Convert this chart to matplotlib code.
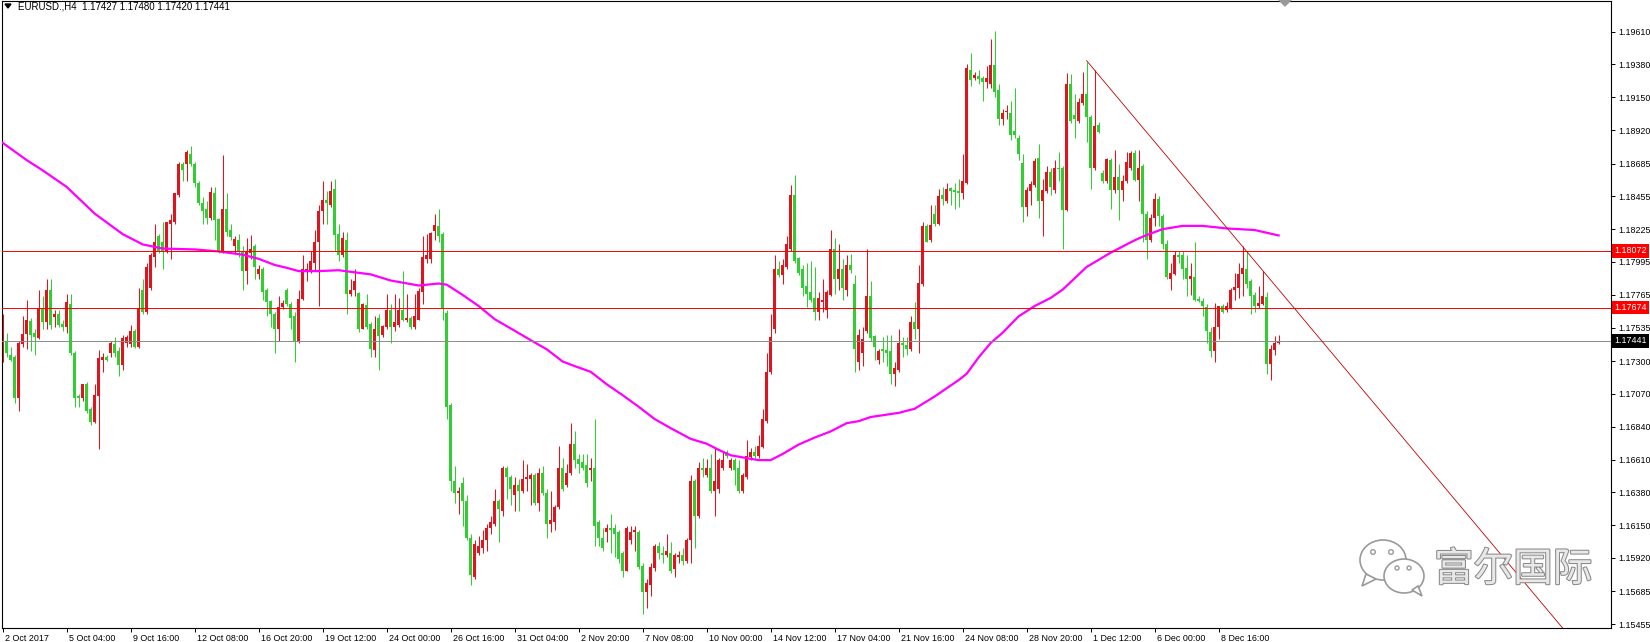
import numpy as np
import matplotlib
matplotlib.use("Agg")
import matplotlib.pyplot as plt
import matplotlib.transforms as mtransforms
import matplotlib.patheffects as pe
from matplotlib.patches import Ellipse, Polygon, Circle

plt.rcParams['font.family'] = ['Liberation Sans', 'DejaVu Sans']

# EURUSD H4 bars (one row = 10 bars)
opens = np.array([
    1.17326, 1.17441, 1.17340, 1.17326, 1.17038, 1.17418, 1.17493, 1.17580, 1.17499, 1.17464,
    1.17671, 1.17571, 1.17798, 1.17610, 1.17628, 1.17562, 1.17542, 1.17700, 1.17360, 1.17052,
    1.17038, 1.17139, 1.16966, 1.16870, 1.17052, 1.17311, 1.17330, 1.17355, 1.17418, 1.17369,
    1.17274, 1.17427, 1.17418, 1.17513, 1.17398, 1.17801, 1.17643, 1.17816, 1.18032, 1.18176,
    1.18132, 1.18075, 1.18262, 1.18276, 1.18464, 1.18680, 1.18680, 1.18752, 1.18680, 1.18550,
    1.18406, 1.18369, 1.18305, 1.18478, 1.18297, 1.18070, 1.18363, 1.18219, 1.18109, 1.18147,
    1.18075, 1.17931, 1.18060, 1.18104, 1.17908, 1.17945, 1.17801, 1.17720, 1.17628, 1.17527,
    1.17677, 1.17801, 1.17700, 1.17614, 1.17441, 1.17735, 1.17931, 1.17931, 1.17988, 1.18132,
    1.18349, 1.18429, 1.18392, 1.18507, 1.18190, 1.18046, 1.18147, 1.17772, 1.17801, 1.17778,
    1.17527, 1.17695, 1.17562, 1.17378, 1.17605, 1.17484, 1.17542, 1.17657, 1.17542, 1.17556,
    1.17657, 1.17585, 1.17599, 1.17542, 1.17591, 1.17787, 1.18017, 1.18017, 1.18213, 1.18248,
    1.18190, 1.17637, 1.16994, 1.16461, 1.16375, 1.16447, 1.16317, 1.16058, 1.15785, 1.15958,
    1.15987, 1.16044, 1.16130, 1.16159, 1.16317, 1.16246, 1.16548, 1.16490, 1.16361, 1.16433,
    1.16389, 1.16476, 1.16476, 1.16505, 1.16303, 1.16513, 1.16375, 1.16159, 1.16174, 1.16274,
    1.16548, 1.16433, 1.16519, 1.16721, 1.16611, 1.16591, 1.16571, 1.16534, 1.16548, 1.16174,
    1.16058, 1.16101, 1.16130, 1.16130, 1.16101, 1.15958, 1.15828, 1.16044, 1.16101, 1.16101,
    1.15862, 1.15684, 1.15727, 1.15851, 1.16001, 1.15958, 1.15943, 1.15958, 1.15842, 1.15929,
    1.15943, 1.15900, 1.16044, 1.16461, 1.16217, 1.16548, 1.16505, 1.16548, 1.16389, 1.16404,
    1.16548, 1.16663, 1.16548, 1.16606, 1.16548, 1.16389, 1.16490, 1.16629, 1.16663, 1.16634,
    1.16698, 1.16879, 1.17225, 1.17527, 1.17945, 1.17902, 1.17960, 1.18089, 1.18464, 1.18023,
    1.17945, 1.17830, 1.17787, 1.17743, 1.17643, 1.17715, 1.17657, 1.17764, 1.18089, 1.17873,
    1.17945, 1.17801, 1.17974, 1.17844, 1.17297, 1.17355, 1.17513, 1.17758, 1.17476, 1.17311,
    1.17383, 1.17378, 1.17369, 1.17211, 1.17239, 1.17427, 1.17412, 1.17383, 1.17571, 1.17527,
    1.17844, 1.18248, 1.18147, 1.18328, 1.18262, 1.18464, 1.18421, 1.18513, 1.18501, 1.18493,
    1.18478, 1.18550, 1.19342, 1.19285, 1.19299, 1.19285, 1.19256, 1.19242, 1.19377, 1.19198,
    1.18997, 1.19049, 1.19040, 1.18910, 1.18867, 1.18686, 1.18377, 1.18493, 1.18536, 1.18723,
    1.18421, 1.18493, 1.18628, 1.18501, 1.18651, 1.18651, 1.18357, 1.19242, 1.19025, 1.18982,
    1.19112, 1.19170, 1.19011, 1.18657, 1.18954, 1.18622, 1.18565, 1.18709, 1.18501, 1.18588,
    1.18501, 1.18565, 1.18651, 1.18760, 1.18571, 1.18665, 1.18334, 1.18147, 1.18300, 1.18435,
    1.18320, 1.18118, 1.17879, 1.17908, 1.18046, 1.18046, 1.17954, 1.17873, 1.17888, 1.17735,
    1.17720, 1.17677, 1.17504, 1.17369, 1.17542, 1.17686, 1.17657, 1.17671, 1.17801, 1.17816,
    1.17908, 1.17945, 1.17859, 1.17764, 1.17686, 1.17700, 1.17752, 1.17283, 1.17378, 1.17427,
])
highs = np.array([
    1.17628, 1.17499, 1.17398, 1.17340, 1.17441, 1.17614, 1.17729, 1.17599, 1.17527, 1.17801,
    1.17758, 1.17873, 1.17873, 1.17657, 1.17657, 1.17585, 1.17772, 1.17772, 1.17369, 1.17066,
    1.17139, 1.17153, 1.16980, 1.17139, 1.17378, 1.17355, 1.17340, 1.17441, 1.17470, 1.17398,
    1.17484, 1.17484, 1.17556, 1.17527, 1.17816, 1.17873, 1.17988, 1.18060, 1.18262, 1.18190,
    1.18276, 1.18276, 1.18334, 1.18478, 1.18694, 1.18694, 1.18781, 1.18809, 1.18694, 1.18565,
    1.18449, 1.18421, 1.18521, 1.18521, 1.18305, 1.18743, 1.18478, 1.18262, 1.18176, 1.18190,
    1.18104, 1.18161, 1.18184, 1.18118, 1.17974, 1.17960, 1.17816, 1.17729, 1.17643, 1.17758,
    1.17729, 1.17816, 1.17715, 1.17643, 1.17801, 1.18046, 1.17988, 1.18075, 1.18219, 1.18392,
    1.18565, 1.18493, 1.18565, 1.18579, 1.18262, 1.18205, 1.18205, 1.17873, 1.17945, 1.17787,
    1.17706, 1.17772, 1.17571, 1.17614, 1.17628, 1.17556, 1.17772, 1.17700, 1.17772, 1.17743,
    1.17931, 1.17772, 1.17614, 1.17772, 1.17816, 1.18176, 1.18190, 1.18205, 1.18334, 1.18363,
    1.18205, 1.17657, 1.17009, 1.16562, 1.16418, 1.16490, 1.16361, 1.16087, 1.16044, 1.16073,
    1.16116, 1.16159, 1.16217, 1.16404, 1.16332, 1.16562, 1.16562, 1.16505, 1.16490, 1.16476,
    1.16605, 1.16577, 1.16519, 1.16519, 1.16548, 1.16562, 1.16404, 1.16389, 1.16289, 1.16706,
    1.16620, 1.16577, 1.16865, 1.16807, 1.16649, 1.16649, 1.16649, 1.16620, 1.16894, 1.16188,
    1.16130, 1.16159, 1.16231, 1.16159, 1.16116, 1.15972, 1.16145, 1.16145, 1.16145, 1.16116,
    1.15885, 1.15770, 1.15885, 1.16015, 1.16030, 1.16001, 1.16087, 1.16030, 1.15958, 1.15972,
    1.15987, 1.16058, 1.16505, 1.16476, 1.16591, 1.16620, 1.16611, 1.16649, 1.16692, 1.16620,
    1.16663, 1.16678, 1.16620, 1.16620, 1.16606, 1.16519, 1.16750, 1.16692, 1.16706, 1.16779,
    1.16966, 1.17355, 1.17628, 1.18046, 1.18003, 1.18017, 1.18176, 1.18536, 1.18608, 1.18032,
    1.17974, 1.17988, 1.18003, 1.17960, 1.17787, 1.17873, 1.17801, 1.18219, 1.18161, 1.18118,
    1.18017, 1.18046, 1.18052, 1.17902, 1.17527, 1.17542, 1.18089, 1.17859, 1.17484, 1.17383,
    1.17470, 1.17484, 1.17484, 1.17297, 1.17527, 1.17470, 1.17470, 1.17614, 1.17715, 1.17974,
    1.18276, 1.18262, 1.18392, 1.18392, 1.18507, 1.18521, 1.18550, 1.18521, 1.18550, 1.18579,
    1.18752, 1.19386, 1.19458, 1.19328, 1.19342, 1.19299, 1.19371, 1.19558, 1.19616, 1.19242,
    1.19069, 1.19098, 1.19126, 1.19213, 1.18882, 1.18752, 1.18521, 1.18565, 1.18723, 1.18824,
    1.18579, 1.18665, 1.18651, 1.18709, 1.18766, 1.18665, 1.19319, 1.19314, 1.19170, 1.19141,
    1.19328, 1.19400, 1.19025, 1.19342, 1.18974, 1.18637, 1.18723, 1.18723, 1.18781, 1.18680,
    1.18608, 1.18766, 1.18772, 1.18781, 1.18781, 1.18680, 1.18349, 1.18334, 1.18478, 1.18455,
    1.18334, 1.18147, 1.17988, 1.18075, 1.18069, 1.18069, 1.18046, 1.17988, 1.18138, 1.17758,
    1.17743, 1.17700, 1.17542, 1.17706, 1.17686, 1.17700, 1.17715, 1.17816, 1.17916, 1.17988,
    1.18104, 1.18069, 1.17873, 1.17787, 1.17830, 1.17931, 1.17787, 1.17412, 1.17476, 1.17480,
])
lows = np.array([
    1.17297, 1.17326, 1.17300, 1.17009, 1.16951, 1.17398, 1.17383, 1.17369, 1.17340, 1.17455,
    1.17527, 1.17527, 1.17527, 1.17542, 1.17542, 1.17513, 1.17499, 1.17340, 1.16980, 1.16980,
    1.17023, 1.16937, 1.16850, 1.16865, 1.16686, 1.17225, 1.17300, 1.17326, 1.17326, 1.17196,
    1.17239, 1.17398, 1.17398, 1.17390, 1.17390, 1.17628, 1.17628, 1.17801, 1.17960, 1.18060,
    1.17945, 1.18060, 1.18017, 1.18262, 1.18449, 1.18565, 1.18565, 1.18665, 1.18521, 1.18392,
    1.18262, 1.18262, 1.18291, 1.18147, 1.18060, 1.18060, 1.18176, 1.18147, 1.18060, 1.18032,
    1.17801, 1.17844, 1.18017, 1.17873, 1.17873, 1.17729, 1.17614, 1.17542, 1.17355, 1.17441,
    1.17665, 1.17686, 1.17527, 1.17297, 1.17427, 1.17729, 1.17859, 1.17916, 1.17931, 1.17686,
    1.18262, 1.18262, 1.18377, 1.18075, 1.18003, 1.18032, 1.17628, 1.17758, 1.17758, 1.17504,
    1.17522, 1.17527, 1.17326, 1.17326, 1.17239, 1.17470, 1.17527, 1.17427, 1.17513, 1.17542,
    1.17579, 1.17571, 1.17527, 1.17527, 1.17585, 1.17700, 1.17988, 1.17988, 1.18147, 1.18132,
    1.17585, 1.16894, 1.16389, 1.16303, 1.16231, 1.16145, 1.16044, 1.15727, 1.15770, 1.15943,
    1.15958, 1.15972, 1.16087, 1.16145, 1.16030, 1.16217, 1.16332, 1.16289, 1.16246, 1.16246,
    1.16375, 1.16389, 1.16289, 1.16289, 1.16246, 1.16361, 1.16058, 1.16101, 1.16116, 1.16260,
    1.16389, 1.16418, 1.16505, 1.16548, 1.16519, 1.16534, 1.16418, 1.16461, 1.16001, 1.16001,
    1.15972, 1.16030, 1.15958, 1.15929, 1.15885, 1.15785, 1.15828, 1.16015, 1.15972, 1.15842,
    1.15526, 1.15569, 1.15655, 1.15828, 1.15914, 1.15885, 1.15929, 1.15814, 1.15785, 1.15885,
    1.15871, 1.15885, 1.15885, 1.15987, 1.16202, 1.16490, 1.16490, 1.16375, 1.16217, 1.16375,
    1.16534, 1.16620, 1.16534, 1.16433, 1.16375, 1.16375, 1.16476, 1.16606, 1.16620, 1.16620,
    1.16692, 1.16865, 1.17211, 1.17499, 1.17888, 1.17844, 1.17945, 1.18075, 1.17988, 1.17902,
    1.17758, 1.17677, 1.17715, 1.17585, 1.17585, 1.17643, 1.17599, 1.17758, 1.17772, 1.17801,
    1.17729, 1.17758, 1.17916, 1.17225, 1.17239, 1.17268, 1.17499, 1.17441, 1.17311, 1.17283,
    1.17297, 1.17268, 1.17139, 1.17124, 1.17225, 1.17326, 1.17340, 1.17369, 1.17455, 1.17355,
    1.17830, 1.18132, 1.18132, 1.18248, 1.18254, 1.18392, 1.18406, 1.18392, 1.18363, 1.18377,
    1.18435, 1.18542, 1.19227, 1.19270, 1.19242, 1.19126, 1.19213, 1.19213, 1.19155, 1.18954,
    1.18954, 1.18997, 1.18853, 1.18867, 1.18709, 1.18276, 1.18320, 1.18392, 1.18521, 1.18305,
    1.18176, 1.18478, 1.18464, 1.18478, 1.18565, 1.18089, 1.18349, 1.18968, 1.18867, 1.18968,
    1.19098, 1.18838, 1.18507, 1.18637, 1.18896, 1.18550, 1.18550, 1.18363, 1.18478, 1.18291,
    1.18421, 1.18550, 1.18637, 1.18565, 1.18421, 1.18132, 1.18017, 1.18132, 1.18248, 1.18248,
    1.18089, 1.17873, 1.17801, 1.17902, 1.17988, 1.17873, 1.17758, 1.17764, 1.17723, 1.17715,
    1.17614, 1.17427, 1.17326, 1.17297, 1.17455, 1.17637, 1.17643, 1.17665, 1.17729, 1.17743,
    1.17758, 1.17816, 1.17628, 1.17643, 1.17671, 1.17695, 1.17211, 1.17167, 1.17340, 1.17420,
])
closes = np.array([
    1.17599, 1.17355, 1.17305, 1.17038, 1.17427, 1.17493, 1.17585, 1.17484, 1.17470, 1.17671,
    1.17571, 1.17801, 1.17556, 1.17628, 1.17556, 1.17536, 1.17715, 1.17355, 1.17038, 1.17044,
    1.17139, 1.16951, 1.16874, 1.17061, 1.17320, 1.17326, 1.17308, 1.17427, 1.17355, 1.17274,
    1.17464, 1.17470, 1.17513, 1.17398, 1.17671, 1.17643, 1.17960, 1.18046, 1.18132, 1.18075,
    1.18075, 1.18276, 1.18291, 1.18478, 1.18680, 1.18637, 1.18766, 1.18680, 1.18550, 1.18406,
    1.18349, 1.18305, 1.18484, 1.18291, 1.18070, 1.18369, 1.18205, 1.18167, 1.18153, 1.18070,
    1.17931, 1.18070, 1.18089, 1.17960, 1.17945, 1.17787, 1.17715, 1.17628, 1.17527, 1.17677,
    1.17706, 1.17700, 1.17599, 1.17441, 1.17735, 1.17945, 1.17945, 1.18003, 1.18138, 1.18349,
    1.18429, 1.18406, 1.18493, 1.18184, 1.18046, 1.18161, 1.17772, 1.17801, 1.17859, 1.17527,
    1.17700, 1.17542, 1.17383, 1.17527, 1.17476, 1.17548, 1.17657, 1.17542, 1.17571, 1.17657,
    1.17585, 1.17599, 1.17542, 1.17614, 1.17792, 1.18032, 1.18046, 1.18196, 1.18254, 1.18176,
    1.17671, 1.16980, 1.16461, 1.16375, 1.16389, 1.16317, 1.16058, 1.15799, 1.16015, 1.16001,
    1.16044, 1.16130, 1.16174, 1.16317, 1.16260, 1.16548, 1.16490, 1.16404, 1.16433, 1.16389,
    1.16476, 1.16490, 1.16505, 1.16303, 1.16519, 1.16375, 1.16159, 1.16188, 1.16274, 1.16548,
    1.16404, 1.16519, 1.16721, 1.16606, 1.16582, 1.16554, 1.16447, 1.16548, 1.16145, 1.16058,
    1.15987, 1.16130, 1.16116, 1.16087, 1.15914, 1.15828, 1.16130, 1.16101, 1.16116, 1.15857,
    1.15684, 1.15741, 1.15857, 1.16001, 1.15958, 1.15943, 1.15966, 1.15828, 1.15943, 1.15943,
    1.15900, 1.16044, 1.16461, 1.16217, 1.16548, 1.16534, 1.16548, 1.16389, 1.16461, 1.16606,
    1.16606, 1.16634, 1.16606, 1.16534, 1.16389, 1.16505, 1.16634, 1.16663, 1.16634, 1.16706,
    1.16894, 1.17225, 1.17470, 1.17945, 1.17902, 1.17974, 1.18118, 1.18464, 1.18003, 1.17916,
    1.17816, 1.17772, 1.17729, 1.17643, 1.17743, 1.17729, 1.17787, 1.18089, 1.17873, 1.17945,
    1.17816, 1.17974, 1.17937, 1.17383, 1.17484, 1.17455, 1.17758, 1.17464, 1.17398, 1.17369,
    1.17369, 1.17360, 1.17211, 1.17254, 1.17427, 1.17412, 1.17383, 1.17571, 1.17527, 1.17850,
    1.18248, 1.18138, 1.18254, 1.18262, 1.18455, 1.18435, 1.18507, 1.18493, 1.18484, 1.18478,
    1.18565, 1.19357, 1.19270, 1.19308, 1.19279, 1.19256, 1.19285, 1.19377, 1.19184, 1.18997,
    1.19040, 1.19054, 1.18882, 1.18882, 1.18752, 1.18377, 1.18501, 1.18542, 1.18703, 1.18421,
    1.18501, 1.18628, 1.18521, 1.18657, 1.18645, 1.18357, 1.19242, 1.18982, 1.18997, 1.19118,
    1.19170, 1.19011, 1.18651, 1.18945, 1.18904, 1.18565, 1.18714, 1.18501, 1.18588, 1.18501,
    1.18565, 1.18694, 1.18760, 1.18571, 1.18651, 1.18334, 1.18147, 1.18305, 1.18435, 1.18320,
    1.18118, 1.17888, 1.17916, 1.18046, 1.18032, 1.17945, 1.17873, 1.17896, 1.17729, 1.17720,
    1.17686, 1.17513, 1.17369, 1.17542, 1.17686, 1.17643, 1.17686, 1.17801, 1.17821, 1.17908,
    1.17954, 1.17844, 1.17758, 1.17686, 1.17706, 1.17758, 1.17283, 1.17383, 1.17427, 1.17441,
])

# moving average (magenta), sampled along the line
ma_bars = [0, 6, 10, 16, 23, 30, 35, 40, 48, 54, 60, 64, 68, 71, 74, 79, 84, 92, 97, 104,
           109, 111, 115, 119, 123, 128, 132, 136, 140, 143, 147, 151, 155, 159, 163, 167,
           172, 176, 179, 182, 186, 189, 192, 195, 199, 203, 207, 211, 214, 217, 224, 228,
           233, 239, 241, 244, 247, 250, 254, 258, 262, 265, 271, 277, 283, 286, 290, 295,
           300, 306, 313, 319]
ma_vals = [1.18830, 1.18709, 1.18637, 1.18521, 1.18334, 1.18190, 1.18118, 1.18089, 1.18083,
           1.18069, 1.18046, 1.18017, 1.17974, 1.17954, 1.17931, 1.17931, 1.17937, 1.17908,
           1.17865, 1.17830, 1.17844, 1.17836, 1.17764, 1.17686, 1.17594, 1.17513, 1.17447,
           1.17383, 1.17297, 1.17265, 1.17225, 1.17138, 1.17061, 1.16980, 1.16894, 1.16830,
           1.16755, 1.16721, 1.16678, 1.16640, 1.16620, 1.16606, 1.16606, 1.16649, 1.16715,
           1.16764, 1.16807, 1.16865, 1.16879, 1.16908, 1.16937, 1.16966, 1.17052, 1.17167,
           1.17211, 1.17326, 1.17427, 1.17499, 1.17614, 1.17686, 1.17743, 1.17801, 1.17960,
           1.18060, 1.18147, 1.18184, 1.18225, 1.18248, 1.18248, 1.18230, 1.18219, 1.18181]

levels = [1.18072, 1.17674]
bid = 1.17441
trend_bars = [271, 390]
trend_prices = [1.19406, 1.15429]

price_ticks = [1.19610, 1.19380, 1.19150, 1.18920, 1.18685, 1.18455, 1.18225, 1.17995,
               1.17765, 1.17535, 1.17300, 1.17070, 1.16840, 1.16610, 1.16380, 1.16150,
               1.15920, 1.15685, 1.15455]
time_labels = ['2 Oct 2017', '5 Oct 04:00', '9 Oct 16:00', '12 Oct 08:00', '16 Oct 20:00',
               '19 Oct 12:00', '24 Oct 00:00', '26 Oct 16:00', '31 Oct 04:00', '2 Nov 20:00',
               '7 Nov 08:00', '10 Nov 00:00', '14 Nov 12:00', '17 Nov 04:00', '21 Nov 16:00',
               '24 Nov 08:00', '28 Nov 20:00', '1 Dec 12:00', '6 Dec 00:00', '8 Dec 16:00']

RED = '#e0141e'
GREEN = '#32cd32'
FS = 6.4

fig = plt.figure(figsize=(16.5, 6.42), dpi=100)
ax = fig.add_axes([2 / 1650, 14 / 642, 1609 / 1650, 627.5 / 642])
ax.set_xlim(-0.175, 402.1)
ax.set_ylim(1.15429, 1.19828)

# candles: red = up, green = down
x = np.arange(len(closes))
up = closes >= opens
col = np.where(up, RED, GREEN)
ax.vlines(x, lows, highs, colors=col, linewidth=0.75, zorder=2)
body = np.maximum(np.abs(closes - opens), 0.00004)
ax.bar(x, body, bottom=np.minimum(opens, closes), width=0.72, color=col,
       linewidth=0, zorder=2)

ax.plot(ma_bars, ma_vals, color='#ff00ff', lw=1.6, zorder=3)
for lv in levels:
    ax.axhline(lv, color='#ff0000', lw=0.7, zorder=4)
ax.axhline(bid, color='#8c8c8c', lw=0.7, zorder=4)
ax.plot(trend_bars, trend_prices, color='#c00000', lw=0.6, zorder=4)

# axes / ticks
for s in ax.spines.values():
    s.set_linewidth(0.8)
ax.yaxis.tick_right()
ax.set_yticks(price_ticks)
ax.set_yticklabels([f'{p:.5f}' for p in price_ticks])
ax.tick_params(axis='y', direction='out', length=3, width=0.7, pad=2, labelsize=FS)
ax.set_xticks(np.arange(0, 16 * len(time_labels), 16))
ax.set_xticklabels(time_labels, ha='left')
ax.tick_params(axis='x', direction='out', length=3, width=0.7, pad=1, labelsize=FS)
shift = mtransforms.ScaledTranslation(2 / 100, 0, fig.dpi_scale_trans)
for lbl in ax.get_xticklabels():
    lbl.set_transform(lbl.get_transform() + shift)

# price boxes on the right axis
trans = mtransforms.blended_transform_factory(ax.transAxes, ax.transData)
box_shift = mtransforms.ScaledTranslation(3 / 100, 0, fig.dpi_scale_trans)
for price, fc in [(levels[0], '#ff0000'), (levels[1], '#ff0000'), (bid, '#000000')]:
    ax.text(1.0, price, f'{price:.5f}', transform=trans + box_shift, ha='left',
            va='center', color='white', fontsize=FS, clip_on=False, zorder=6,
            bbox=dict(boxstyle='square,pad=0.25', fc=fc, ec='none'))

# overlay in pixel units: header, shift marker, watermark
ov = fig.add_axes([0, 0, 1, 1], facecolor='none')
ov.set_xlim(0, 1650)
ov.set_ylim(642, 0)
ov.axis('off')
ov.add_patch(Polygon([[5, 4], [11, 4], [8, 8]], closed=True, color='black'))
ov.text(18, 6.5, f'EURUSD.,H4  {opens[-1]:.5f} {highs[-1]:.5f} {lows[-1]:.5f} {closes[-1]:.5f}',
        fontsize=7, ha='left', va='center')
ov.add_patch(Polygon([[1279, 0], [1291, 0], [1285, 6]], closed=True, color='#9a9a9a'))

wc = '#9a9a9a'
ov.add_patch(Ellipse((1383, 560), 46, 40, fc='white', ec=wc, lw=1.2))
ov.add_patch(Polygon([[1366, 574], [1362, 586], [1376, 579]], closed=True, fc='white', ec=wc, lw=1.2))
ov.add_patch(Circle((1373, 552), 2.3, fc='white', ec=wc, lw=1))
ov.add_patch(Circle((1391, 552), 2.3, fc='white', ec=wc, lw=1))
ov.add_patch(Ellipse((1404, 576), 40, 34, fc='white', ec=wc, lw=1.2))
ov.add_patch(Polygon([[1412, 590], [1422, 596], [1418, 586]], closed=True, fc='white', ec=wc, lw=1.2))
ov.add_patch(Circle((1397, 568), 2.0, fc='white', ec=wc, lw=1))
ov.add_patch(Circle((1409, 568), 2.0, fc='white', ec=wc, lw=1))
ov.text(1434, 570, '富尔国际', family=['Noto Sans CJK SC'], fontsize=28.5, color='#e8e8e8',
        ha='left', va='center',
        path_effects=[pe.withStroke(linewidth=1.5, foreground='#8a8a8a')])

fig.savefig('out.png', dpi=100)
